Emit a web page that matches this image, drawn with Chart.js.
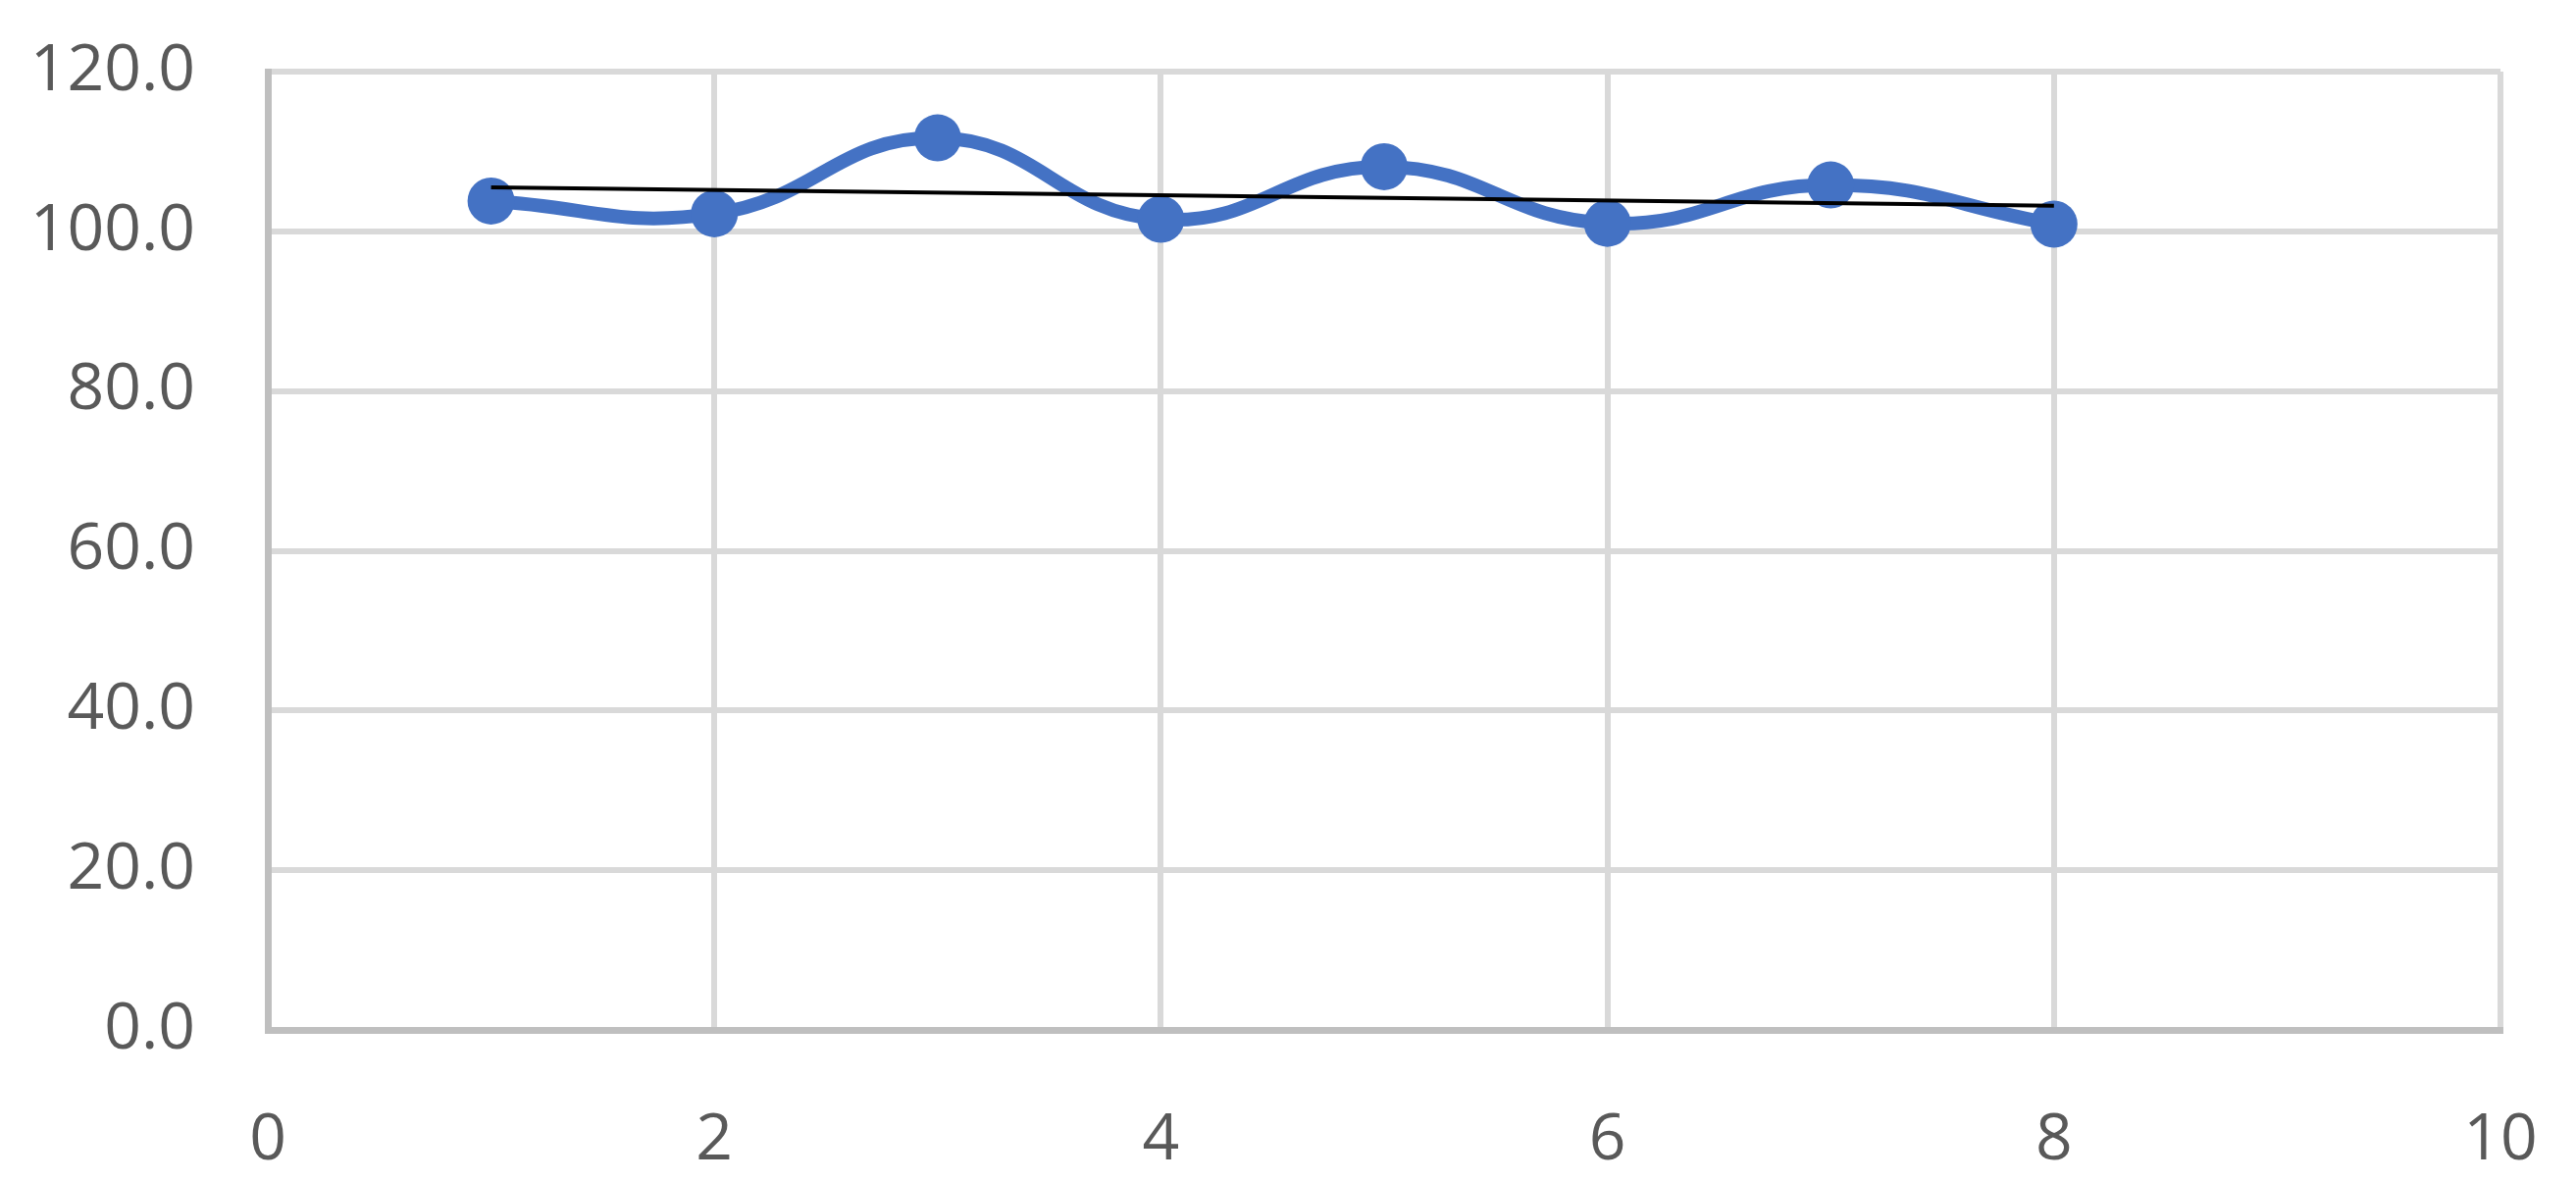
<!DOCTYPE html>
<html>
<head>
<meta charset="utf-8">
<script src="https://cdn.jsdelivr.net/npm/chart.js@4.4.0/dist/chart.umd.min.js"></script>
<style>
  html, body { margin: 0; padding: 0; background: #ffffff; }
  #wrap { width: 2626px; height: 1204px; }
</style>
</head>
<body>
<div id="wrap"><canvas id="chart" width="2626" height="1204"></canvas></div>
<script>
/* chart values */
var xValues = [1, 2, 3, 4, 5, 6, 7, 8];
var yValues = [103.8, 102.2, 111.7, 101.5, 108.1, 101.0, 105.8, 100.9];
var trendX = [1, 8];
var trendY = [105.5, 103.2];
var xTicks = [0, 2, 4, 6, 8, 10];
var yTicks = [0, 20, 40, 60, 80, 100, 120];

function toPoints(xs, ys) {
    var pts = [];
    for (var i = 0; i < xs.length; i++) {
        pts.push({x: xs[i], y: ys[i]});
    }
    return pts;
};

var blue = "#4472C4";
var tickFont = {family: "'Open Sans', 'Noto Sans', sans-serif", size: 66};

var myChart = new Chart(document.getElementById("chart"), {
    type: 'line',
    data: {
        datasets: [{
            data: toPoints(trendX, trendY),
            borderColor: "#000000",
            borderWidth: 4,
            pointRadius: 0,
            tension: 0,
            fill: false,
            order: 0
        }, {
            data: toPoints(xValues, yValues),
            borderColor: blue,
            borderWidth: 14,
            pointRadius: 24,
            pointBackgroundColor: blue,
            pointBorderWidth: 0,
            tension: 0.45,
            fill: false,
            order: 1
        }]
    },
    options: {
        responsive: false,
        animation: false,
        layout: {padding: {top: 73, right: 77, left: 0, bottom: 0}},
        plugins: {legend: {display: false}, tooltip: {enabled: false}},
        scales: {
            x: {
                type: 'linear',
                min: xTicks[0],
                max: xTicks[xTicks.length - 1],
                afterBuildTicks: function (scale) {
                    scale.ticks = xTicks.map(function (v) { return {value: v}; });
                },
                afterFit: function (scale) {
                    scale.height = 154;
                    scale.paddingLeft = 0;
                    scale.paddingRight = 0;
                },
                grid: {color: "#D9D9D9", lineWidth: 6, drawTicks: false},
                border: {color: "#BFBFBF", width: 7},
                ticks: {color: "#595959", font: tickFont, padding: 74, maxRotation: 0}
            },
            y: {
                min: yTicks[0],
                max: yTicks[yTicks.length - 1],
                afterBuildTicks: function (scale) {
                    scale.ticks = yTicks.map(function (v) { return {value: v}; });
                },
                afterFit: function (scale) {
                    scale.width = 273;
                    scale.paddingTop = 0;
                    scale.paddingBottom = 0;
                },
                grid: {color: "#D9D9D9", lineWidth: 6, drawTicks: false},
                border: {color: "#BFBFBF", width: 7},
                ticks: {
                    color: "#595959",
                    font: tickFont,
                    padding: 74,
                    callback: function (v) { return v.toFixed(1); }
                }
            }
        }
    }
});
</script>
</body>
</html>
